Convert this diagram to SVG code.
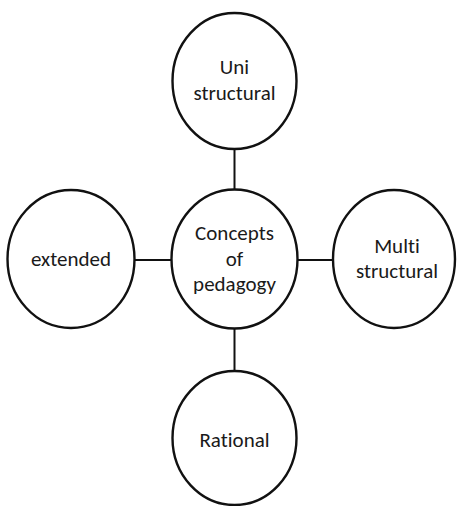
<svg xmlns="http://www.w3.org/2000/svg" width="457" height="506" viewBox="0 0 457 506">
  <style>
    .node { fill: #ffffff; stroke: #111111; stroke-width: 2.4; }
    .link { stroke: #111111; stroke-width: 2; fill: none; }
    .label { font-family: Carlito, "Open Sans", "Liberation Sans", sans-serif; font-size: 21px; fill: #1a1a1a; text-anchor: middle; font-variant-ligatures: none; }
  </style>
  <rect width="457" height="506" fill="#ffffff"/>
  <g id="connectors">
    <line class="link" x1="234.5" y1="149" x2="234.5" y2="190"/>
    <line class="link" x1="234.5" y1="328" x2="234.5" y2="370"/>
    <line class="link" x1="135" y1="260" x2="172" y2="260"/>
    <line class="link" x1="297" y1="260" x2="333" y2="260"/>
  </g>
  <g id="uni-structural">
    <ellipse class="node" cx="234.5" cy="81" rx="62" ry="68"/>
    <text class="label" x="234.5" y="74">Uni</text>
    <text class="label" x="234.5" y="100">structural</text>
  </g>
  <g id="concepts-of-pedagogy">
    <ellipse class="node" cx="234.5" cy="259" rx="63" ry="69.5"/>
    <text class="label" x="234.5" y="240">Concepts</text>
    <text class="label" x="234.5" y="265.5">of</text>
    <text class="label" x="234.5" y="291">pedagogy</text>
  </g>
  <g id="extended">
    <ellipse class="node" cx="71" cy="259" rx="63.5" ry="69"/>
    <text class="label" x="71" y="265.5">extended</text>
  </g>
  <g id="multi-structural">
    <ellipse class="node" cx="394" cy="259" rx="61" ry="69"/>
    <text class="label" x="397" y="253">Multi</text>
    <text class="label" x="397" y="278">structural</text>
  </g>
  <g id="rational">
    <ellipse class="node" cx="234.5" cy="438" rx="62" ry="67"/>
    <text class="label" x="234.5" y="446.5">Rational</text>
  </g>
</svg>
